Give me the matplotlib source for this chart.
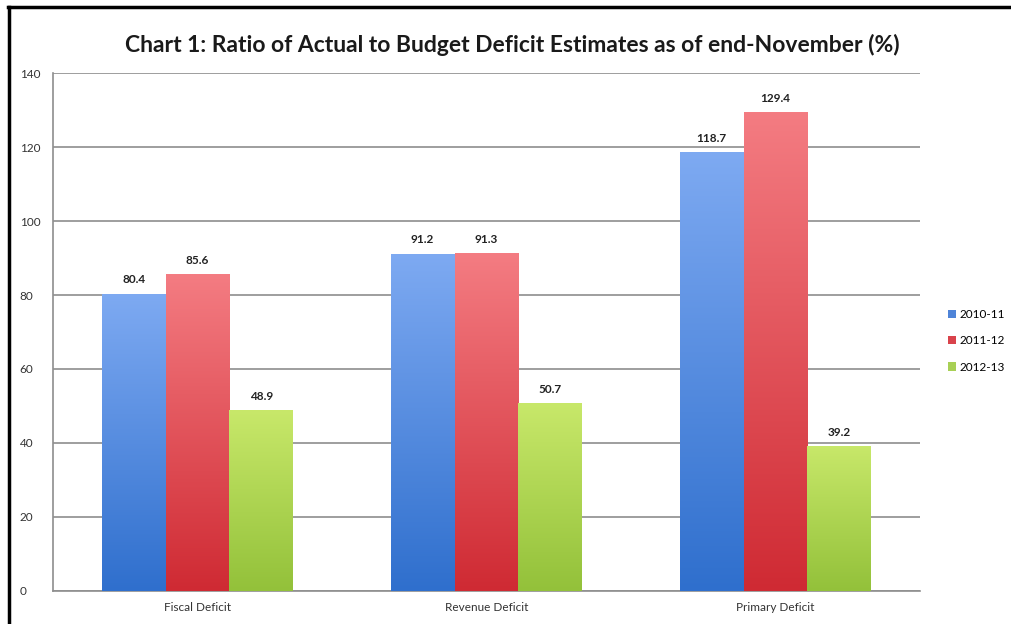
import numpy as np
import matplotlib
matplotlib.use("Agg")
import matplotlib.pyplot as plt
from matplotlib.colors import LinearSegmentedColormap
from matplotlib.patches import Patch
from matplotlib.lines import Line2D

plt.rcParams['font.family'] = ['Lato', 'DejaVu Sans']

categories = ["Fiscal Deficit", "Revenue Deficit", "Primary Deficit"]
series = ["2010-11", "2011-12", "2012-13"]
v_2010 = [80.4, 91.2, 118.7]
v_2011 = [85.6, 91.3, 129.4]
v_2012 = [48.9, 50.7, 39.2]
values = [v_2010, v_2011, v_2012]

# (top colour, bottom colour) for the gradient fill
grads = [("#7eaaf2", "#2f6fcd"),
         ("#f47c82", "#cf2a33"),
         ("#c8e86a", "#93c13a")]
legend_cols = ["#4f84d8", "#d9434b", "#a8d055"]

fig = plt.figure(figsize=(10.11, 6.24), dpi=100)
ax = fig.add_axes([0.0524, 0.0529, 0.8576, 0.8301])

x = np.arange(len(categories))
w = 0.221
grad = np.linspace(0, 1, 256).reshape(-1, 1)

for k, (vals, (ctop, cbot)) in enumerate(zip(values, grads)):
    cmap = LinearSegmentedColormap.from_list("g%d" % k, [cbot, ctop])
    bars = ax.bar(x + (k - 1) * w, vals, w, color="none", edgecolor="none", zorder=3)
    for b, v in zip(bars, vals):
        x0 = b.get_x()
        im = ax.imshow(grad, extent=[x0, x0 + w, 0, v], origin="lower", cmap=cmap,
                       aspect="auto", zorder=3)
        im.set_clip_path(b)
        ax.text(x0 + w / 2, v + 2.2, "%.1f" % v, ha="center", va="bottom",
                fontsize=8.5, fontweight="bold", color="#222222", zorder=4)

ax.set_xlim(-0.5, 2.5)
ax.set_ylim(0, 140)
ax.set_yticks(np.arange(0, 141, 20))
ax.set_xticks(x)
ax.set_xticklabels(categories)
ax.tick_params(axis="both", length=0, labelsize=8.5, colors="#333333")
ax.tick_params(axis="y", pad=24)
ax.tick_params(axis="x", pad=8)
for lbl in ax.get_yticklabels():
    lbl.set_horizontalalignment("left")
ax.yaxis.grid(True, color="#8e8e8e", linewidth=1.2, zorder=0)
ax.set_axisbelow(True)
for s in ["top", "right"]:
    ax.spines[s].set_visible(False)
for s in ["left", "bottom"]:
    ax.spines[s].set_color("#8e8e8e")
    ax.spines[s].set_linewidth(1.2)

handles = [Patch(facecolor=c, edgecolor="none") for c in legend_cols]
fig.legend(handles, series, loc="center left", bbox_to_anchor=(0.927, 0.454),
           frameon=False, fontsize=8.5, handlelength=0.7, handleheight=0.7,
           handletextpad=0.3, labelspacing=1.3)

fig.text(0.507, 0.928, "Chart 1: Ratio of Actual to Budget Deficit Estimates as of end-November (%)",
         ha="center", va="center", fontsize=16.5, fontweight="bold", color="#1a1a1a")

# frame lines on the left and top edge of the screenshot
fig.add_artist(Line2D([0.0085, 0.0085], [0, 0.989], color="black", linewidth=2.5,
                      transform=fig.transFigure))
fig.add_artist(Line2D([0.0075, 1.0], [0.989, 0.989], color="black", linewidth=2.5,
                      transform=fig.transFigure))

fig.savefig("out.png", dpi=100)
